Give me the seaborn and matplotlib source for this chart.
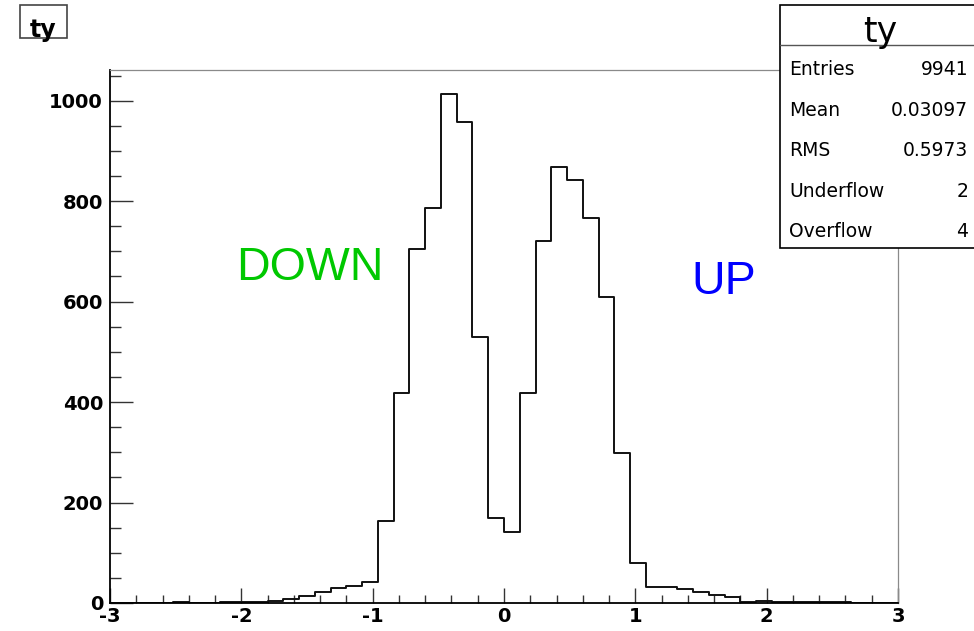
import numpy as np
import pandas as pd
import matplotlib
matplotlib.use("Agg")
import matplotlib.pyplot as plt
from matplotlib.patches import Rectangle
from matplotlib.lines import Line2D
import seaborn as sns

# Histogram "ty": 50 bins on [-3, 3]
bin_edges = [round(-3.0 + 0.12 * i, 2) for i in range(51)]
counts = [0, 0, 0, 0, 1, 0, 0, 1, 1, 1,
          4, 7, 14, 22, 29, 34, 42, 163, 418, 704,
          787, 1014, 957, 529, 170, 142, 418, 720, 868, 842,
          767, 610, 298, 79, 31, 31, 28, 21, 16, 11,
          1, 3, 1, 1, 1, 1, 1, 0, 0, 0]

x_ticks = [-3, -2, -1, 0, 1, 2, 3]
x_tick_labels = ["-3", "-2", "-1", "0", "1", "2", "3"]
y_ticks = [0, 200, 400, 600, 800, 1000]
y_tick_labels = ["0", "200", "400", "600", "800", "1000"]

stat_names = ["Entries", "Mean", "RMS", "Underflow", "Overflow"]
stat_values = ["9941", "0.03097", "0.5973", "2", "4"]

annotations = [("DOWN", -2.04, 643, "#00c800"), ("UP", 1.43, 616, "#0000ff")]

sns.set_style("ticks")
plt.rcParams["font.family"] = ["DejaVu Sans"]
plt.rcParams["axes.unicode_minus"] = False
plt.rcParams["text.color"] = "black"
plt.rcParams["xtick.labelcolor"] = "black"
plt.rcParams["ytick.labelcolor"] = "black"

W, H = 974, 631
fig = plt.figure(figsize=(W / 100, H / 100), dpi=100)
fig.patch.set_facecolor("white")


def fx(px):
    return px / W


def fy(py):
    return 1 - py / H


ax = fig.add_axes([fx(110), fy(603), fx(898) - fx(110), fy(70) - fy(603)])
ax.set_facecolor("white")

centers = [(a + b) / 2 for a, b in zip(bin_edges[:-1], bin_edges[1:])]
df = pd.DataFrame({"ty": centers, "n": counts})
sns.histplot(data=df, x="ty", weights="n", bins=bin_edges, element="step",
             fill=False, color="#111111", linewidth=1.4, ax=ax)

ax.set_xlim(-3, 3)
ax.set_ylim(0, 1061)
ax.set_xlabel("")
ax.set_ylabel("")

ax.set_xticks(x_ticks)
ax.set_xticklabels(x_tick_labels, fontweight="heavy", fontsize=14)
ax.set_xticks(np.arange(-3, 3.001, 0.2), minor=True)
ax.set_yticks(y_ticks)
ax.set_yticklabels(y_tick_labels, fontweight="heavy", fontsize=14)
ax.set_yticks(np.arange(0, 1061, 50), minor=True)

ax.tick_params(axis="x", which="major", direction="in", length=10.8, width=1.0,
               color="#333333", pad=3)
ax.tick_params(axis="x", which="minor", direction="in", length=5.8, width=1.0,
               color="#333333")
ax.tick_params(axis="y", which="major", direction="in", length=16.5, width=1.0,
               color="#333333", pad=5)
ax.tick_params(axis="y", which="minor", direction="in", length=8, width=1.0,
               color="#333333")
ax.tick_params(top=False, right=False)

for side in ("left", "bottom"):
    ax.spines[side].set_color("black")
    ax.spines[side].set_linewidth(1.3)
for side in ("top", "right"):
    ax.spines[side].set_visible(True)
    ax.spines[side].set_color("#8a8a8a")
    ax.spines[side].set_linewidth(0.9)

for label, xv, yv, col in annotations:
    ax.text(xv, yv, label, color=col, fontsize=33.5, ha="left", va="baseline",
            family=["Liberation Sans", "DejaVu Sans"])

# Title box in the top-left corner
fig.add_artist(Rectangle((fx(20), fy(38)), fx(67) - fx(20), fy(5) - fy(38),
                         transform=fig.transFigure, facecolor="white",
                         edgecolor="#444444", linewidth=1.2, zorder=10))
fig.text(fx(43.5), fy(37), "ty", fontsize=17, fontweight="bold", ha="center",
         va="baseline", zorder=11)

# Statistics box
fig.add_artist(Rectangle((fx(780), fy(248)), fx(980) - fx(780), fy(5) - fy(248),
                         transform=fig.transFigure, facecolor="white",
                         edgecolor="black", linewidth=1.2, zorder=10))
fig.add_artist(Line2D([fx(780), fx(980)], [fy(45), fy(45)],
                      transform=fig.transFigure, color="#555555",
                      linewidth=1.0, zorder=11))
fig.text(fx(880), fy(42), "ty", fontsize=25, ha="center", va="baseline",
         zorder=12)
row_baselines = [75, 115.5, 156, 197, 237]
for name, val, yb in zip(stat_names, stat_values, row_baselines):
    fig.text(fx(789), fy(yb), name, fontsize=13.5, ha="left", va="baseline",
             zorder=12)
    fig.text(fx(968), fy(yb), val, fontsize=13.5, ha="right", va="baseline",
             zorder=12)

fig.savefig("out.png", dpi=100, facecolor="white")
